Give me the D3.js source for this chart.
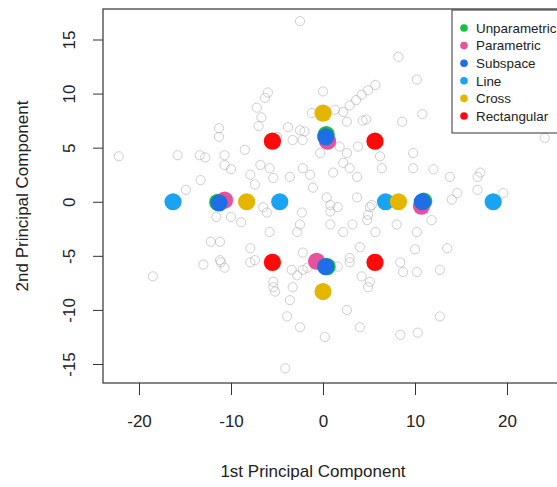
<!DOCTYPE html>
<html>
<head>
<meta charset="utf-8">
<script src="https://cdn.jsdelivr.net/npm/d3@7"></script>
<style>
  html, body { margin: 0; padding: 0; background: #fff; }
  svg { display: block; font-family: "Liberation Sans", Arial, sans-serif; }
</style>
</head>
<body>
<svg id="chart" width="557" height="487"></svg>
<script>
// Principal component scores of all samples (grey open circles)
const scoreX = [
  -22.2, -15.8, -13.4, -12.8, -11.3, -11.3, -10.7, -10.7, -10.0, -8.5,
  -7.9, -7.4, -6.8, -13.3, -14.9, -7.2, -6.7, -7.0, -6.3, -6.0,
  -11.6, -10.0, -8.9, -12.2, -11.2, -7.9, -7.4, -11.2, -18.5, -13.0,
  -11.1, -10.7, -7.9, -2.5, 8.2, 10.2, 10.8, 8.6, 0.0, 2.2,
  2.9, 3.6, 4.2, 4.9, 5.7, 4.7, 2.6, 1.3, -1.2, -3.8,
  -5.0, -2.0, -0.3, 1.8, 2.6, 3.8, 6.2, 9.8, 12.0, 9.8,
  13.8, 17.1, 19.6, 14.6, 16.8, 24.1, -3.3, -2.2, 6.4, -5.8,
  -5.4, -3.6, -2.2, -1.4, 1.1, 2.2, 2.9, 3.7, -1.1, 0.4,
  1.6, 0.8, 3.7, 5.1, 4.9, -6.5, -6.1, -2.3, -2.5, 0.8,
  2.2, 3.2, -5.8, -2.8, 5.7, 8.0, 10.2, 11.8, 10.0, 13.5,
  12.7, 10.2, 8.7, 8.4, 12.7, 10.3, 8.4, 5.1, 4.2, 4.9,
  4.0, 2.9, 2.6, 4.0, 0.2, -4.1, -2.5, -3.6, -3.9, -3.3,
  -2.2, -3.4, 1.6, -2.2, 0.8, 4.8, 5.3, -5.4, -5.2, -5.4,
  -1.7, 2.9, -2.8, 14.0, 4.3, -2.5, 16.8
];
const scoreY = [
  4.2, 4.3, 4.3, 4.1, 6.8, 6.0, 4.3, 3.4, 3.0, 4.8,
  2.5, 1.6, 3.4, 2.0, 1.1, 8.7, 7.8, 7.0, 9.6, 10.1,
  -1.4, -1.4, -1.9, -3.7, -3.7, -4.3, -5.4, -5.4, -6.9, -5.8,
  -5.6, -6.1, -5.6, 16.7, 13.4, 11.3, 8.1, 7.4, 10.2, 8.3,
  8.9, 9.4, 9.9, 10.3, 10.8, 7.6, 7.4, 8.5, 8.2, 6.9,
  6.0, 6.5, 4.5, 5.1, 4.5, 5.1, 4.2, 4.5, 3.0, 3.1,
  2.3, 2.7, 0.8, 0.8, 1.1, 5.9, 5.7, 5.7, 3.1, 3.1,
  2.2, 2.3, 3.1, 2.5, 2.7, 3.6, 3.1, 2.3, 1.3, 0.4,
  -0.5, -0.9, 0.4, -0.5, -1.2, -0.5, -1.0, -1.0, -2.1, -2.1,
  -2.8, -2.1, -2.8, -2.8, -2.8, -2.1, -2.8, -1.7, -4.4, -4.3,
  -6.3, -6.5, -6.5, -5.6, -10.6, -12.1, -12.3, -7.4, -6.9, -7.9,
  -4.2, -5.2, -10.0, -11.6, -12.5, -15.4, -11.6, -9.1, -10.6, -7.9,
  -6.3, -6.3, -6.0, -4.7, -0.3, -1.7, -0.3, -7.9, -8.3, -7.4,
  -6.1, -5.6, -6.8, 0.2, 7.5, 6.6, 2.3
];

// Reference positions of the sampling designs, in plotting order
const methodNames = ["Unparametric", "Parametric", "Subspace", "Line", "Cross", "Rectangular"];
const methodColors = ["#14c23c", "#e8519c", "#1e6fe6", "#18a4f2", "#e4b600", "#ff0a0a"];
const unparametricX = [-11.45, 0.35, 10.95, 0.45];
const unparametricY = [-0.05, 6.2, 0.05, -6.0];
const parametricX = [-10.7, 0.5, 10.7, -0.7];
const parametricY = [0.15, 5.6, -0.4, -5.5];
const subspaceX = [-11.3, 0.3, 10.8, 0.3];
const subspaceY = [-0.1, 6.0, 0.0, -6.0];
const lineX = [-16.3, -4.7, 6.8, 18.5];
const lineY = [0, 0, 0, 0];
const crossX = [-8.3, 0.0, 8.2, 0.0];
const crossY = [0, 8.2, 0, -8.3];
const rectangularX = [-5.5, 5.65, -5.5, 5.65];
const rectangularY = [5.6, 5.6, -5.6, -5.6];

const xTicks = [-20, -10, 0, 10, 20];
const yTicks = [-15, -10, -5, 0, 5, 10, 15];
const xTitle = "1st Principal Component";
const yTitle = "2nd Principal Component";

const methodX = [unparametricX, parametricX, subspaceX, lineX, crossX, rectangularX];
const methodY = [unparametricY, parametricY, subspaceY, lineY, crossY, rectangularY];

// ---- layout ----
const box = { left: 103, top: 9, right: 600, bottom: 383 };
const svg = d3.select("#chart");

const x = d3.scaleLinear().domain([-20, 20]).range([139, 507]);
const y = d3.scaleLinear().domain([-15, 15]).range([364, 39.5]);

// grey sample scores
const scores = scoreX.map((v, i) => ({ x: v, y: scoreY[i] }));
svg.append("g")
  .selectAll("circle")
  .data(scores)
  .join("circle")
  .attr("cx", d => x(d.x))
  .attr("cy", d => y(d.y))
  .attr("r", 4.6)
  .attr("fill", "none")
  .attr("stroke", "#a0a0a0")
  .attr("stroke-opacity", 0.5)
  .attr("stroke-width", 1);

// design points, drawn group by group
const designs = svg.append("g");
methodNames.forEach((name, k) => {
  const pts = methodX[k].map((v, i) => ({ x: v, y: methodY[k][i] }));
  designs.append("g")
    .attr("class", name)
    .selectAll("circle")
    .data(pts)
    .join("circle")
    .attr("cx", d => x(d.x))
    .attr("cy", d => y(d.y))
    .attr("r", 8.6)
    .attr("fill", methodColors[k]);
});

// plot frame
svg.append("rect")
  .attr("x", box.left).attr("y", box.top)
  .attr("width", box.right - box.left).attr("height", box.bottom - box.top)
  .attr("fill", "none").attr("stroke", "#333").attr("stroke-width", 1.2);

// axes
const fmt = d => d < 0 ? "-" + Math.abs(d) : String(d);
const xAxis = d3.axisBottom(x).tickValues(xTicks).tickSize(12).tickPadding(20).tickFormat(fmt);
const gx = svg.append("g").attr("transform", `translate(0,${box.bottom})`).call(xAxis);
gx.select(".domain").remove();
gx.selectAll("line").attr("stroke", "#333");
gx.selectAll("text").attr("font-size", 17).attr("fill", "#222")
  .attr("font-family", "Liberation Sans, Arial, sans-serif");

const yAxis = d3.axisLeft(y).tickValues(yTicks).tickSize(10).tickPadding(0).tickFormat(fmt);
const gy = svg.append("g").attr("transform", `translate(${box.left},0)`).call(yAxis);
gy.select(".domain").remove();
gy.selectAll("line").attr("stroke", "#333");
gy.selectAll("text")
  .attr("font-size", 17).attr("fill", "#222")
  .attr("font-family", "Liberation Sans, Arial, sans-serif")
  .attr("text-anchor", "middle")
  .attr("x", 0).attr("y", 0).attr("dy", 0)
  .attr("transform", "translate(-34,0) rotate(-90)")
  .attr("dominant-baseline", "central");

// axis titles
svg.append("text")
  .attr("x", 313).attr("y", 477)
  .attr("text-anchor", "middle")
  .attr("font-size", 17).attr("fill", "#222")
  .text(xTitle);
svg.append("text")
  .attr("transform", "translate(28,196) rotate(-90)")
  .attr("text-anchor", "middle")
  .attr("font-size", 17).attr("fill", "#222")
  .text(yTitle);

// legend
const legend = svg.append("g").attr("transform", "translate(452,10)");
legend.append("rect")
  .attr("width", 160).attr("height", 123)
  .attr("fill", "#fff").attr("stroke", "#333").attr("stroke-width", 1);
methodNames.forEach((name, k) => {
  const row = legend.append("g").attr("transform", `translate(0,${18 + k * 17.6})`);
  row.append("circle").attr("cx", 12).attr("cy", 0).attr("r", 3.8).attr("fill", methodColors[k]);
  row.append("text").attr("x", 24).attr("y", 0).attr("dy", "0.35em")
    .attr("font-size", 13.4).attr("fill", "#222").text(name);
});
</script>
</body>
</html>
